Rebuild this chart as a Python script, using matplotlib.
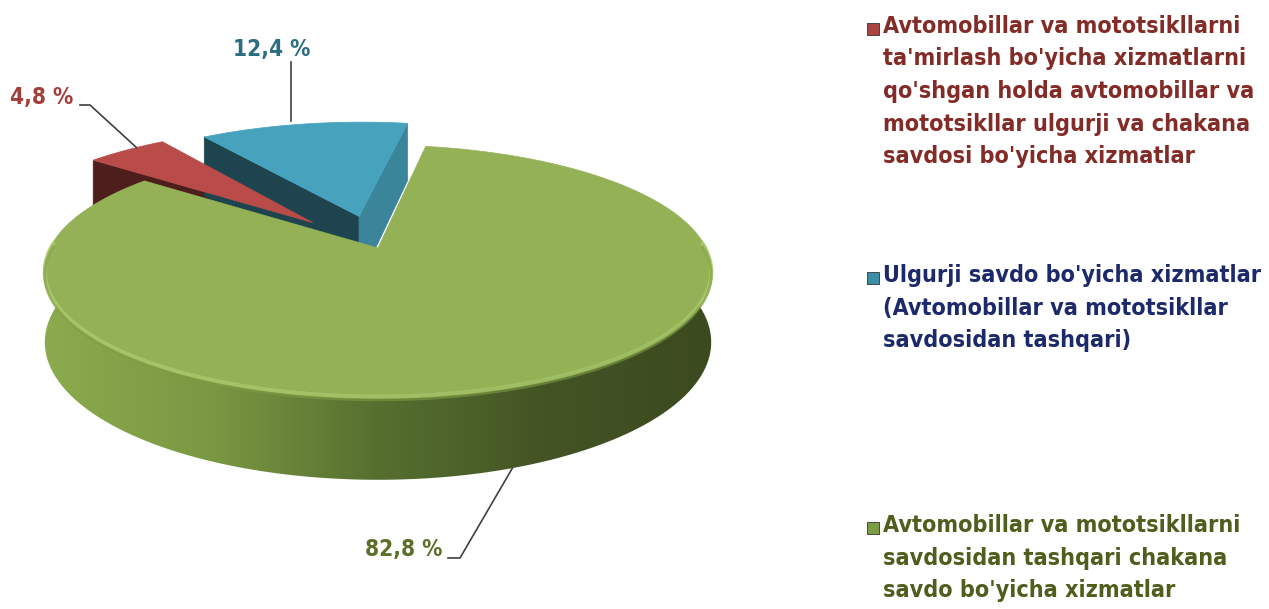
import numpy as np
import matplotlib
matplotlib.use("Agg")
import matplotlib.pyplot as plt
from matplotlib import font_manager as fm
from matplotlib.patches import Polygon, Rectangle
from matplotlib.colors import LinearSegmentedColormap

# data (percent)
labels = [
    "Avtomobillar va mototsikllarni\nta'mirlash bo'yicha xizmatlarni\nqo'shgan holda avtomobillar va\nmototsikllar ulgurji va chakana\nsavdosi bo'yicha xizmatlar",
    "Ulgurji savdo bo'yicha xizmatlar\n(Avtomobillar va mototsikllar\nsavdosidan tashqari)",
    "Avtomobillar va mototsikllarni\nsavdosidan tashqari chakana\nsavdo bo'yicha xizmatlar",
]
values = [4.8, 12.4, 82.8]
value_text = ["4,8 %", "12,4 %", "82,8 %"]

explode = [0.30, 0.28, 0.0]
top_colors = ["#b94b48", "#47a3bd", "#94b156"]
face_a_colors = ["#4e1e1d", "#1e4450", "#5d7a30"]
face_b_colors = ["#7a2f2c", "#3a8599", "#5d7a30"]
text_colors = ["#832b27", "#1c2a6b", "#4f5e1d"]
label_colors = ["#a33f3b", "#2b6e82", "#5c6f28"]
marker_colors = ["#a84441", "#3c8ea6", "#7e9c44"]


# pick a bold narrow sans font file if one is installed
def pick_font():
    best, best_score = None, -1
    for f in fm.fontManager.ttflist:
        n = f.name.lower()
        if "serif" in n or "mono" in n or f.style != "normal":
            continue
        narrow = ("narrow" in n or "condensed" in n
                  or str(f.stretch) in ("condensed", "semi-condensed"))
        if not narrow:
            continue
        w = f.weight if isinstance(f.weight, int) else {"bold": 700}.get(f.weight, 400)
        score = 10 - abs(w - 700) / 100
        if "liberation" in n or "arial" in n:
            score += 5
        if score > best_score:
            best, best_score = f, score
    if best is None:
        return fm.FontProperties(family="Liberation Sans", weight="bold")
    return fm.FontProperties(fname=best.fname)


FP = pick_font()

# projection of the pie disk (simple perspective)
CX, CY = 378, 248
A, B, D, P = 328, 121, 70, 0.176
START = 142.1


def proj(u, v, z=0.0):
    w = 1 + P * v
    return CX + A * u / w, CY - B * v / w + D * z / w


def arc(ox, oy, t1, t2, z=0.0, n=120):
    t = np.radians(np.linspace(t1, t2, n))
    return [proj(ox + np.cos(a), oy + np.sin(a), z) for a in t]


fig = plt.figure(figsize=(12.69, 6.09), dpi=100)
ax = fig.add_axes([0, 0, 1, 1])
ax.set_xlim(0, 1269)
ax.set_ylim(609, 0)
ax.axis("off")
renderer = fig.canvas.get_renderer()


def fit_size(s, width_px, base=20):
    fp = FP.copy()
    fp.set_size(base)
    t = ax.text(0, 0, s, fontproperties=fp)
    w = t.get_window_extent(renderer).width
    t.remove()
    return base * width_px / w


def font(size):
    fp = FP.copy()
    fp.set_size(size)
    return fp


leg_fp = font(fit_size("qo'shgan holda avtomobillar va", 372))
lab_fp = font(fit_size("82,8 %", 77))

# slice angles, clockwise from START
spans = np.array(values) / sum(values) * 360
ends = START - np.cumsum(spans)
starts = ends + spans

green_cmap = LinearSegmentedColormap.from_list(
    "g", ["#8cab4e", "#7a9842", "#566f2f", "#435424", "#3c4a1f"])

for i in range(len(values)):
    ta, tb = starts[i], ends[i]
    mid = np.radians((ta + tb) / 2)
    ox, oy = explode[i] * np.cos(mid), explode[i] * np.sin(mid)

    # cut faces
    for t, col, vis in [(ta, face_a_colors[i], np.cos(np.radians(ta)) < 0),
                        (tb, face_b_colors[i], np.cos(np.radians(tb)) > 0)]:
        if not vis or i == 2:
            continue
        ex, ey = ox + np.cos(np.radians(t)), oy + np.sin(np.radians(t))
        quad = [proj(ox, oy), proj(ex, ey), proj(ex, ey, 1), proj(ox, oy, 1)]
        ax.add_patch(Polygon(quad, closed=True, fc=col, ec=col, lw=0.5))

    # outer side (front part only)
    lo, hi = max(tb, -185), min(ta, 5)
    if i == 2:
        lo, hi = -185, 5
    if lo < hi:
        side = arc(ox, oy, lo, hi) + arc(ox, oy, hi, lo, 1)
        if i == 2:
            patch = Polygon(side, closed=True, fc="none", ec="none")
            ax.add_patch(patch)
            grad = np.linspace(0, 1, 256).reshape(1, -1)
            im = ax.imshow(grad, cmap=green_cmap, aspect="auto",
                           extent=[CX - 335, CX + 335, 500, 240], zorder=1)
            im.set_clip_path(patch)
        else:
            ax.add_patch(Polygon(side, closed=True, fc=face_a_colors[i]))

    # top surface
    top = [proj(ox, oy)] + arc(ox, oy, tb, ta)
    ax.add_patch(Polygon(top, closed=True, fc=top_colors[i],
                         ec=top_colors[i], lw=0.5, zorder=2))
    if i == 2:
        rim = np.array(arc(ox, oy, -183, 3))
        ax.plot(rim[:, 0], rim[:, 1] + 2, color="#a9c96b", lw=3, zorder=3,
                solid_capstyle="round", alpha=0.9)
        ax.plot(rim[:, 0], rim[:, 1] + 5, color="#7f9b44", lw=2, zorder=3,
                alpha=0.6)

# data labels with leader lines
red_mid = np.radians((starts[0] + ends[0]) / 2)
red_off = explode[0] * np.cos(red_mid), explode[0] * np.sin(red_mid)
t = np.radians(131)
rx, ry = proj(red_off[0] + np.cos(t), red_off[1] + np.sin(t))
ax.plot([80, 90, rx], [105, 105, ry], color="#404040", lw=1.2, zorder=4)
ax.text(73, 104, value_text[0], ha="right", va="baseline",
        fontproperties=lab_fp, color=label_colors[0])

ax.plot([291, 291], [62, 121], color="#404040", lw=1.2, zorder=4)
ax.text(272, 56, value_text[1], ha="center", va="baseline",
        fontproperties=lab_fp, color=label_colors[1])

t = np.radians(-70)
gx, gy = proj(np.cos(t), np.sin(t), 1)
ax.plot([448, 460, gx], [558, 558, gy], color="#404040", lw=1.2, zorder=4)
ax.text(442, 556, value_text[2], ha="right", va="baseline",
        fontproperties=lab_fp, color=label_colors[2])

# legend
leg_base = [33, 282, 532]
for i, lab in enumerate(labels):
    for j, line in enumerate(lab.split("\n")):
        ax.text(883, leg_base[i] + 32.5 * j, line, ha="left", va="baseline",
                fontproperties=leg_fp, color=text_colors[i])
    ax.add_patch(Rectangle((867, leg_base[i] - 10), 12, 12,
                           fc=marker_colors[i], ec="#333333", lw=0.6))

fig.savefig("out.png", dpi=100)
